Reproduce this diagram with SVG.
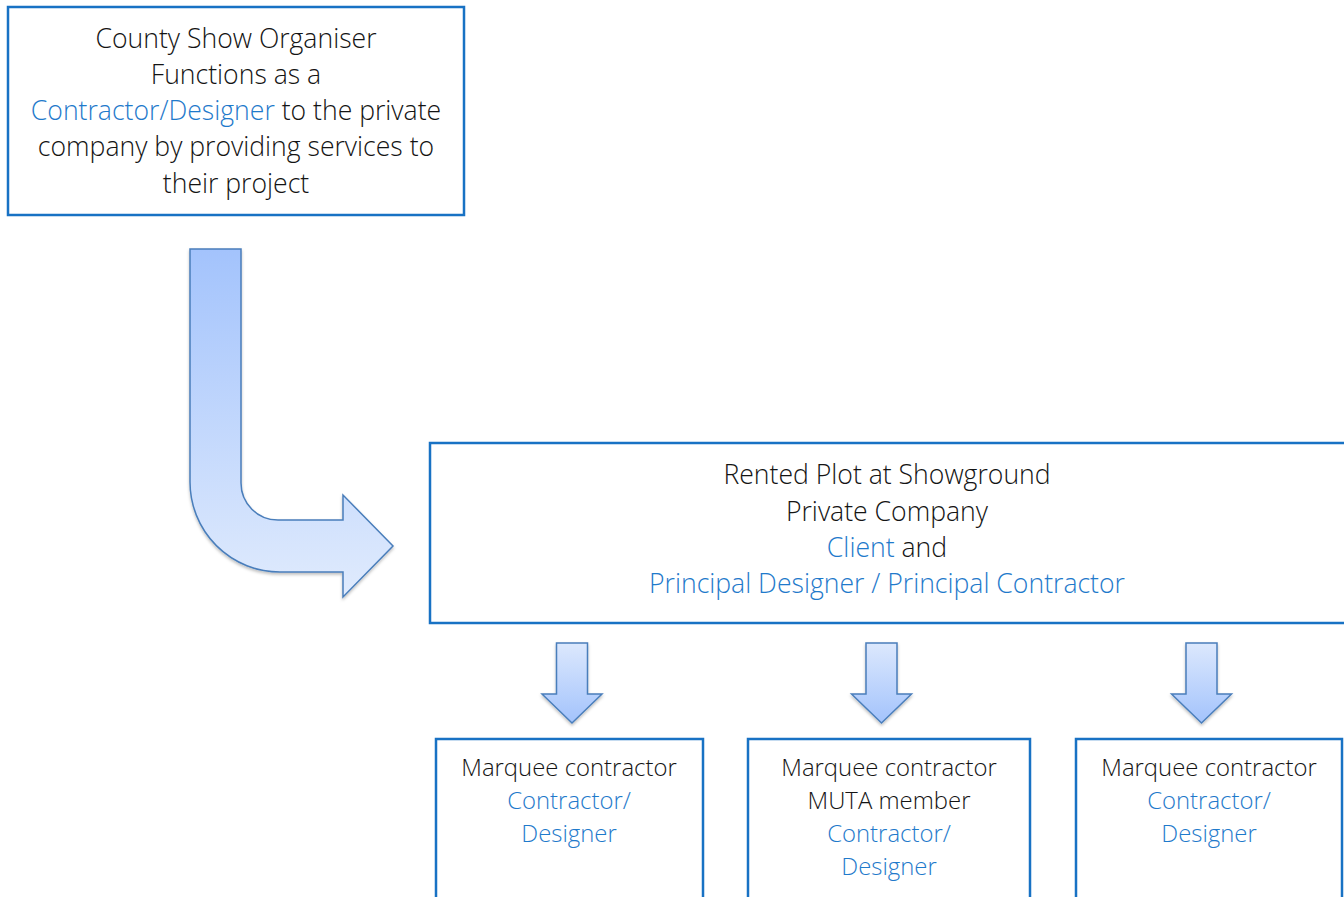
<svg xmlns="http://www.w3.org/2000/svg" width="1344" height="897" viewBox="0 0 1344 897">
<defs>
<linearGradient id="gBig" x1="0" y1="0" x2="0" y2="1">
<stop offset="0" stop-color="#a3c3fc"/>
<stop offset="1" stop-color="#e0ebfd"/>
</linearGradient>
<linearGradient id="gSmall" x1="0" y1="0" x2="0" y2="1">
<stop offset="0" stop-color="#dce8fd"/>
<stop offset="1" stop-color="#a3c3fc"/>
</linearGradient>
<filter id="sh" x="-20%" y="-20%" width="140%" height="140%">
<feDropShadow dx="0" dy="2" stdDeviation="1.5" flood-color="#000" flood-opacity="0.25"/>
</filter>
</defs>
<style>
.box{fill:#fff;stroke:#1872c4;stroke-width:2.5}
.arrow{stroke:#4a7ebb;stroke-width:1.5;stroke-linejoin:miter}
text{font-family:"Open Sans","Noto Sans",sans-serif;font-weight:300;fill:#141414;text-anchor:middle}
.t25{font-size:26.6px}
.t23{font-size:23.9px}
.blue{fill:#1f7acb}
</style>
<rect width="1344" height="897" fill="#fff"/>
<g id="connectors">
<path class="arrow" fill="url(#gBig)" filter="url(#sh)" d="M190,249 L241,249 L241,483 A37,37 0 0 0 278,520 L343,520 L343,495 L393,546 L343,597 L343,572 L280,572 A90,90 0 0 1 190,482 Z"/>
<path class="arrow" fill="url(#gSmall)" filter="url(#sh)" d="M556.5,643 h31 v51 h14.5 L572,723 L542,694 h14.5 Z"/>
<path class="arrow" fill="url(#gSmall)" filter="url(#sh)" d="M866,643 h31 v51 h14.5 L881.5,723 L851.5,694 h14.5 Z"/>
<path class="arrow" fill="url(#gSmall)" filter="url(#sh)" d="M1186,643 h31 v51 h14.5 L1201.5,723 L1171.5,694 h14.5 Z"/>
</g>
<g id="organiser">
<rect class="box" x="8" y="7" width="456" height="208"/>
<text class="t25" x="236" y="48">County Show Organiser</text>
<text class="t25" x="236" y="84">Functions as a</text>
<text class="t25" x="236" y="120"><tspan class="blue">Contractor/Designer</tspan> to the private</text>
<text class="t25" x="236" y="156">company by providing services to</text>
<text class="t25" x="236" y="193">their project</text>
</g>
<g id="plot">
<rect class="box" x="430" y="443" width="930" height="180"/>
<text class="t25" x="887" y="484">Rented Plot at Showground</text>
<text class="t25" x="887" y="521">Private Company</text>
<text class="t25" x="887" y="557"><tspan class="blue">Client</tspan> and</text>
<text class="t25 blue" x="887" y="593">Principal Designer / Principal Contractor</text>
</g>
<g id="marquee1">
<rect class="box" x="436" y="739" width="267" height="180"/>
<text class="t23" x="569" y="776">Marquee contractor</text>
<text class="t23 blue" x="569" y="809">Contractor/</text>
<text class="t23 blue" x="569" y="842">Designer</text>
</g>
<g id="marquee2">
<rect class="box" x="748" y="739" width="282" height="180"/>
<text class="t23" x="889" y="776">Marquee contractor</text>
<text class="t23" x="889" y="809">MUTA member</text>
<text class="t23 blue" x="889" y="842">Contractor/</text>
<text class="t23 blue" x="889" y="875">Designer</text>
</g>
<g id="marquee3">
<rect class="box" x="1076" y="739" width="266" height="180"/>
<text class="t23" x="1209" y="776">Marquee contractor</text>
<text class="t23 blue" x="1209" y="809">Contractor/</text>
<text class="t23 blue" x="1209" y="842">Designer</text>
</g>
</svg>
